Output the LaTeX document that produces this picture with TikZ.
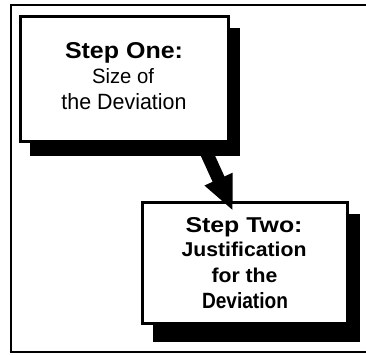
\documentclass[tikz,border=0pt]{standalone}
\usepackage{fontspec}
\usepackage{graphicx}
\setmainfont{Liberation Sans}
\usetikzlibrary{arrows.meta}
\newcommand{\fitline}[3]{\resizebox{#1}{#2}{#3}}
\tikzset{
  frame/.style={line width=2.2pt, black},
  stepbox/.style={draw=black, line width=3pt, fill=white, inner sep=0pt},
  shadowbox/.style={fill=black, draw=none},
  bigarrow/.style={line width=13pt, black, -{Triangle[length=35pt,width=28pt]}},
  txt/.style={anchor=base, inner sep=0pt, font=\fontsize{20}{22}\selectfont},
}
\begin{document}
\begin{tikzpicture}[x=1pt,y=-1pt]
\useasboundingbox (0,0) rectangle (366,355);
% outer frame
\draw[frame] (372,5) -- (11,5) -- (11,352) -- (372,352);
% box one
\fill[shadowbox] (30,28) rectangle (240,156);
\node[stepbox, minimum width=208pt, minimum height=125pt] (a) at (124,79.5) {};
\node[txt] (a1) at (124,59)  {\fitline{118pt}{16pt}{\bfseries Step One:}};
\node[txt] (a2) at (123,84)  {\fitline{62pt}{15pt}{Size of}};
\node[txt] (a3) at (124,110) {\fitline{125pt}{16pt}{the Deviation}};
% box two
\fill[shadowbox] (153,214) rectangle (360,342);
\node[stepbox, minimum width=205pt, minimum height=121pt] (b) at (244.5,262.5) {};
\node[txt] (b1) at (244,232) {\fitline{117pt}{15pt}{\bfseries Step Two:}};
\node[txt] (b2) at (244,256) {\fitline{125pt}{14.5pt}{\bfseries Justification}};
\node[txt] (b3) at (244.5,282) {\fitline{66pt}{14.5pt}{\bfseries for the}};
\node[txt] (b4) at (245,308) {\fitline{86pt}{16pt}{\bfseries Deviation}};
% arrow
\coordinate (s) at (203,145);
\coordinate (t) at (233,211);
\draw[bigarrow] (s) -- (t);
\end{tikzpicture}
\end{document}
